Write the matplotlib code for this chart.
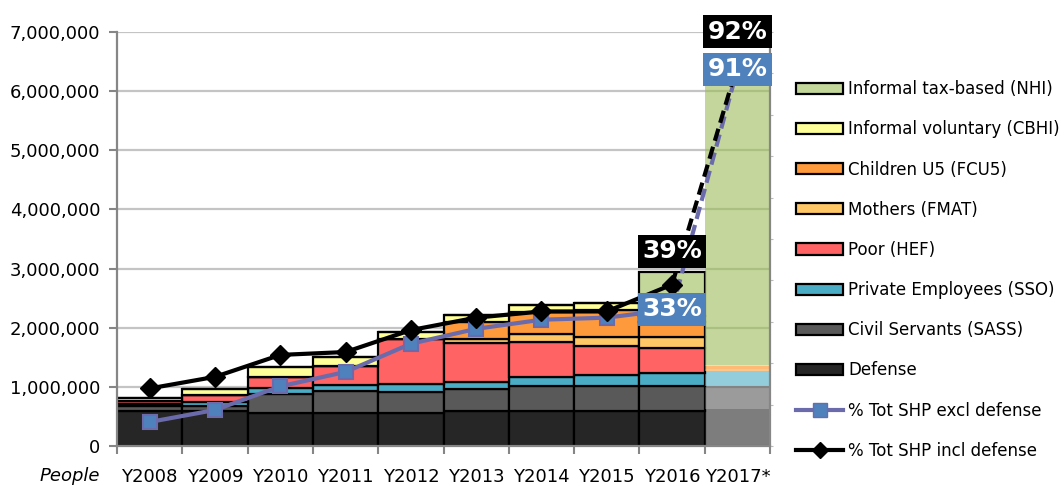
import numpy as np
import matplotlib.pyplot as plt
from matplotlib.patches import Patch
from matplotlib.lines import Line2D
from matplotlib.ticker import FuncFormatter

years = ['Y2008', 'Y2009', 'Y2010', 'Y2011', 'Y2012', 'Y2013', 'Y2014', 'Y2015', 'Y2016', 'Y2017*']

# people covered, millions
defense = [0.60, 0.60, 0.55, 0.55, 0.55, 0.60, 0.60, 0.60, 0.60, 0.63]
civil_servants = [0.07, 0.08, 0.33, 0.38, 0.37, 0.37, 0.41, 0.41, 0.42, 0.38]
private_emp = [0.04, 0.07, 0.10, 0.10, 0.12, 0.11, 0.15, 0.19, 0.22, 0.26]
poor = [0.05, 0.12, 0.19, 0.33, 0.77, 0.66, 0.60, 0.49, 0.41, 0.00]
mothers = [0.00, 0.00, 0.00, 0.00, 0.00, 0.07, 0.13, 0.15, 0.19, 0.04]
children = [0.00, 0.00, 0.00, 0.00, 0.00, 0.28, 0.37, 0.46, 0.26, 0.04]
voluntary = [0.06, 0.10, 0.17, 0.15, 0.12, 0.13, 0.12, 0.12, 0.10, 0.02]
tax_based = [0.00, 0.00, 0.00, 0.00, 0.00, 0.00, 0.00, 0.00, 0.75, 5.03]

# share of target population
pct_excl = [0.058, 0.087, 0.144, 0.179, 0.247, 0.283, 0.305, 0.31, 0.33, 0.91]
pct_incl = [0.139, 0.167, 0.220, 0.227, 0.280, 0.31, 0.325, 0.325, 0.39, 0.92]

series = [
    ('Defense', defense, '#262626'),
    ('Civil Servants (SASS)', civil_servants, '#595959'),
    ('Private Employees (SSO)', private_emp, '#4bacc6'),
    ('Poor (HEF)', poor, '#ff6363'),
    ('Mothers (FMAT)', mothers, '#ffc766'),
    ('Children U5 (FCU5)', children, '#ff9a3c'),
    ('Informal voluntary (CBHI)', voluntary, '#ffff99'),
    ('Informal tax-based (NHI)', tax_based, '#c4d79b'),
]
# projected year is drawn see-through
proj_colors = ['#262626', '#595959', '#4bacc6', '#ff6363', '#ffa33a', '#ff8c1a', '#d8d860', '#9dbc58']

plt.rcParams['font.family'] = 'DejaVu Sans'
fig = plt.figure(figsize=(10.64, 4.86), dpi=100)
ax = fig.add_axes([117 / 1064, 1 - 446 / 486, 653 / 1064, 414 / 486])

x = np.arange(len(years))
bottom = np.zeros(len(years))
for i, (name, vals, color) in enumerate(series):
    vals = np.array(vals) * 1e6
    ax.bar(x[:-1], vals[:-1], 1.0, bottom=bottom[:-1], color=color,
           edgecolor='black', linewidth=1.6, zorder=2)
    ax.bar(x[-1:], vals[-1:], 1.0, bottom=bottom[-1:], color=proj_colors[i],
           alpha=0.6, linewidth=0, zorder=2)
    bottom += vals

ax.set_xlim(-0.5, 9.5)
ax.set_ylim(0, 7e6)
ax.set_yticks(np.arange(0, 7.1e6, 1e6))
ax.yaxis.set_major_formatter(FuncFormatter(lambda v, p: f'{int(v):,}'))
ax.yaxis.grid(True, color='#c4c4c4', linewidth=1.6)
for line in ax.get_ygridlines():
    line.set_zorder(1.5)
ax.set_xticks(np.arange(-0.5, 10, 1))
ax.set_xticklabels([])
ax.set_xticks(x, minor=True)
ax.set_xticklabels(years, minor=True)
ax.tick_params(axis='x', which='major', length=6, color='#868686', width=1.5)
ax.tick_params(axis='x', which='minor', length=0, pad=16, labelsize=13)
ax.tick_params(axis='y', length=6, color='#868686', width=1.5, labelsize=13, pad=6)
for s in ['top', 'right']:
    ax.spines[s].set_visible(False)
for s in ['left', 'bottom']:
    ax.spines[s].set_color('#868686')
    ax.spines[s].set_linewidth(1.6)
fig.text(70 / 1064, 1 - 476 / 486, 'People', style='italic', fontsize=13, ha='center', va='center')

ax2 = ax.twinx()
ax2.set_ylim(0, 1.0)
ax2.set_yticks(np.arange(0, 1.01, 0.1))
ax2.tick_params(axis='y', length=2, color='#bbbbbb', labelright=False)
ax2.spines['right'].set_color('#868686')
ax2.spines['right'].set_linewidth(1.6)
for s in ['top', 'left', 'bottom']:
    ax2.spines[s].set_visible(False)

excl_col = '#6b6bab'
ax2.plot(x[-2:], pct_excl[-2:], color=excl_col, linewidth=3, linestyle=(0, (3, 1.5)), zorder=4)
ax2.plot(x[-2:], pct_incl[-2:], color='black', linewidth=3, linestyle=(0, (3, 1.5)), zorder=5)
ax2.plot(x[:-1], pct_excl[:-1], color=excl_col, linewidth=3, marker='s', markersize=10,
         markerfacecolor='#4f81bd', markeredgecolor=excl_col, markeredgewidth=1.5, zorder=6)
ax2.plot(x[:-1], pct_incl[:-1], color='black', linewidth=3, marker='D', markersize=10, zorder=7)

for i in [8, 9]:
    ax2.annotate(f'{round(pct_incl[i] * 100)}%', (x[i], pct_incl[i]), xytext=(0, 24),
                 textcoords='offset points', ha='center', va='center', fontsize=18,
                 fontweight='bold', color='white', zorder=10,
                 bbox=dict(boxstyle='square,pad=0.18', facecolor='black', edgecolor='none'))
    ax2.annotate(f'{round(pct_excl[i] * 100)}%', (x[i], pct_excl[i]), xytext=(0, 0),
                 textcoords='offset points', ha='center', va='center', fontsize=18,
                 fontweight='bold', color='white', zorder=10,
                 bbox=dict(boxstyle='square,pad=0.18', facecolor='#4f81bd', edgecolor='none'))

handles = [Patch(facecolor=c, edgecolor='black', linewidth=1.6, label=n) for n, v, c in series[::-1]]
handles.append(Line2D([], [], color=excl_col, linewidth=3, marker='s', markersize=10,
                      markerfacecolor='#4f81bd', markeredgecolor=excl_col, label='% Tot SHP excl defense'))
handles.append(Line2D([], [], color='black', linewidth=3, marker='D', markersize=8,
                      label='% Tot SHP incl defense'))
fig.legend(handles=handles, loc='center left', bbox_to_anchor=(788 / 1064, 1 - 270 / 486),
           frameon=False, fontsize=12, labelspacing=1.33, handlelength=2.8,
           handleheight=0.65, handletextpad=0.3, borderpad=0)

fig.savefig('out.png', dpi=100)
